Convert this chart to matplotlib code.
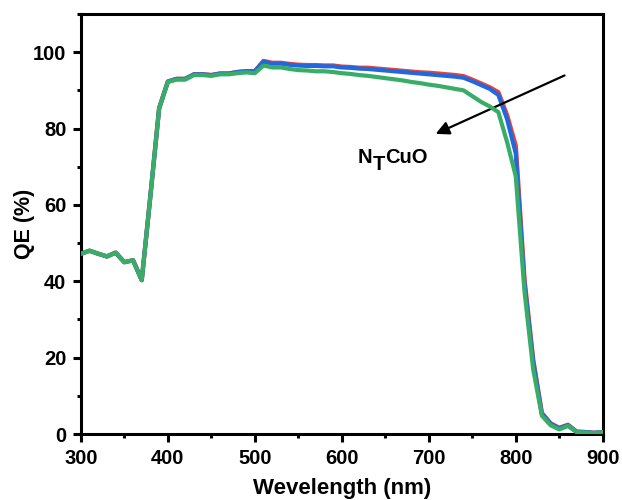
import matplotlib
matplotlib.use('Agg')
import matplotlib.pyplot as plt
from matplotlib.ticker import MultipleLocator
from matplotlib import rcParams

rcParams['font.family'] = 'Liberation Sans'
rcParams['font.weight'] = 'bold'

# wavelength grid (nm)
wl = [300, 310, 320, 330, 340, 350, 360, 370, 380, 390,
      400, 410, 420, 430, 440, 450, 460, 470, 480, 490,
      500, 510, 520, 530, 540, 550, 560, 570, 580, 590,
      600, 610, 620, 630, 640, 650, 660, 670, 680, 690,
      700, 710, 720, 730, 740, 750, 760, 770, 780, 790,
      800, 810, 820, 830, 840, 850, 860, 870, 880, 890, 900]

qe_red = [47.2, 48.0, 47.2, 46.5, 47.5, 45.0, 45.5, 40.3, 62.5, 85.3,
          92.3, 93.0, 93.0, 94.2, 94.2, 94.0, 94.4, 94.4, 94.8, 95.0,
          95.0, 97.7, 97.2, 97.2, 96.9, 96.7, 96.6, 96.6, 96.5, 96.5,
          96.2, 96.1, 95.9, 95.9, 95.7, 95.5, 95.3, 95.1, 94.9, 94.7,
          94.6, 94.4, 94.2, 94.0, 93.7, 92.8, 91.8, 90.8, 89.5, 83.5,
          75.5, 40.5, 19.5, 5.5, 2.8, 1.6, 2.4, 0.6, 0.5, 0.3, 0.5]

qe_blue = [47.2, 48.0, 47.2, 46.5, 47.5, 45.0, 45.5, 40.3, 62.5, 85.3,
           92.3, 93.0, 93.0, 94.2, 94.2, 94.0, 94.4, 94.4, 94.8, 95.0,
           95.0, 97.5, 97.0, 97.0, 96.7, 96.5, 96.4, 96.4, 96.3, 96.3,
           96.0, 95.9, 95.7, 95.6, 95.4, 95.2, 95.0, 94.8, 94.6, 94.4,
           94.2, 94.0, 93.8, 93.6, 93.3, 92.4, 91.4, 90.4, 88.8, 82.5,
           73.5, 39.5, 19.0, 5.3, 2.7, 1.5, 2.3, 0.6, 0.5, 0.3, 0.5]

qe_green = [47.2, 48.0, 47.2, 46.5, 47.5, 45.0, 45.5, 40.3, 62.5, 85.3,
            92.2, 92.8, 92.8, 94.0, 94.0, 93.8, 94.2, 94.2, 94.5, 94.7,
            94.5, 96.5, 96.0, 96.0, 95.6, 95.3, 95.2, 95.0, 95.0, 94.8,
            94.5, 94.3, 94.0, 93.8, 93.5, 93.2, 92.9, 92.6, 92.2, 91.9,
            91.5, 91.2, 90.8, 90.4, 90.0, 88.5, 87.0, 85.8, 84.3, 76.5,
            67.5, 37.5, 17.0, 4.8, 2.3, 1.2, 2.1, 0.5, 0.4, 0.2, 0.5]

fs = 14.5

fig = plt.figure(figsize=(6.22, 5.0), dpi=100)
ax = fig.add_axes([0.130, 0.132, 0.839, 0.840])

ax.plot(wl, qe_red, color='#e8423b', lw=3.2, zorder=2)
ax.plot(wl, qe_blue, color='#2168e0', lw=3.0, zorder=3)
ax.plot(wl, qe_green, color='#38ad68', lw=3.0, zorder=4)

ax.set_xlim(300, 900)
ax.set_ylim(0, 110)
ax.xaxis.set_major_locator(MultipleLocator(100))
ax.xaxis.set_minor_locator(MultipleLocator(50))
ax.yaxis.set_major_locator(MultipleLocator(20))
ax.yaxis.set_minor_locator(MultipleLocator(10))
ax.tick_params(which='major', direction='out', length=5.5, width=2.2,
               labelsize=fs, pad=5)
ax.tick_params(which='minor', direction='out', length=3, width=2.2)
for s in ax.spines.values():
    s.set_linewidth(2.2)

ax.set_xlabel('Wevelength (nm)', fontsize=16, fontweight='bold')
ax.set_ylabel('QE (%)', fontsize=15.5, fontweight='bold')
ax.xaxis.set_label_coords(0.5, -0.105)
ax.yaxis.set_label_coords(-0.088, 0.5)

ax.annotate('', xy=(705, 78.3), xytext=(859, 94.2),
            arrowprops=dict(arrowstyle='-|>', color='k', lw=1.6,
                            mutation_scale=20))

# N_T CuO label: subscript T drawn full size, just lowered
lab_x, lab_y = 618.5, 71.0
ax.annotate('N', xy=(lab_x, lab_y), xytext=(0, 0), textcoords='offset points',
            fontsize=fs, fontweight='bold', ha='left', va='baseline')
ax.annotate('T', xy=(lab_x, lab_y), xytext=(10.5, -5), textcoords='offset points',
            fontsize=fs, fontweight='bold', ha='left', va='baseline')
ax.annotate('CuO', xy=(lab_x, lab_y), xytext=(19.6, 0), textcoords='offset points',
            fontsize=fs, fontweight='bold', ha='left', va='baseline')

fig.savefig('out.png', dpi=100)
